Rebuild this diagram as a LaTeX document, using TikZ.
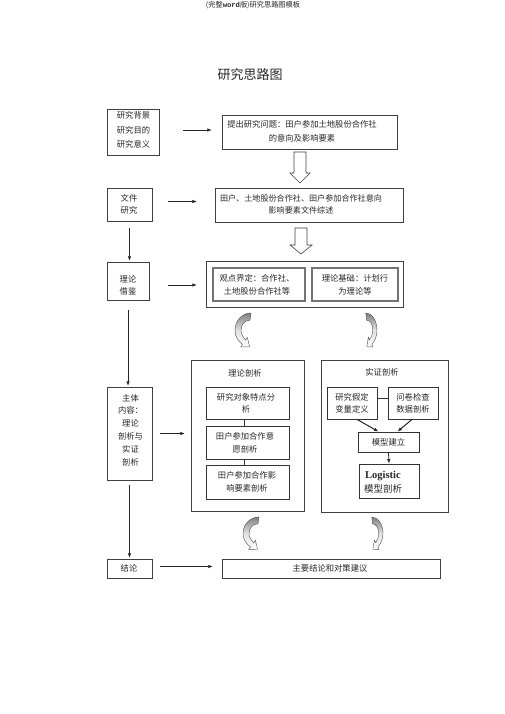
\documentclass[tikz,border=0pt]{standalone}
\usepackage{fontspec}
\setmainfont{Noto Sans CJK SC}
\newfontfamily\latserif{Liberation Serif}
\newfontfamily\latmono{Liberation Mono}
\usetikzlibrary{arrows.meta,shadows}
\tikzset{
  curv/.pic={\path[draw=black!70, line width=0.4pt, top color=black!50, bottom color=white, middle color=black!12]
    (16,0) .. controls (8,0) and (0,6) .. (0,16) .. controls (0,22) and (4,26) .. (7.5,28.5)
    -- (5.7,30.9) -- (14.6,30.7) -- (12.3,22.1) -- (10.5,24.5)
    .. controls (8,22) and (6,19) .. (6,16) .. controls (6,10) and (10,6.5) .. (15,6.5) -- cycle;}
}
\begin{document}
\begin{tikzpicture}[x=1pt,y=-1pt,
  bx/.style={draw=black!75, line width=0.5pt, inner sep=0pt, fill=white},
  bxs/.style={bx, drop shadow={shadow xshift=0.9pt, shadow yshift=-0.9pt, fill=black!70, opacity=1}},
  bxt/.style={draw=black!55, line width=1.4pt, inner sep=0pt, fill=white},
  bxm/.style={draw=black!80, line width=0.8pt, inner sep=0pt, fill=white},
  txt/.style={font=\fontsize{8.3}{13}\selectfont, text=black!85, align=center, inner sep=0pt},
  arr/.style={draw=black!85, line width=0.6pt, -{Latex[length=4.5pt,width=3.5pt]}},
  ln/.style={draw=black!80, line width=0.6pt},
  hollow/.style={draw=black!75, line width=0.6pt, fill=white}]
\useasboundingbox (0,0) rectangle (505,714);

% header and title
\node[txt, font=\fontsize{7.2}{9}\selectfont] (hdr) at (253,5) {(完整{\latmono\bfseries word}版)研究思路图模板};
\node[txt, font=\fontsize{13}{15}\selectfont] (ttl) at (250,75) {研究思路图};

% left column
\node[bx, minimum width=52pt, minimum height=46pt] (b1) at (133,132) {};
\node[txt, align=left, font=\fontsize{8.3}{14.5}\selectfont] (t1) at (133.5,130) {研究背景\\研究目的\\研究意义};
\node[bx, minimum width=45pt, minimum height=33pt] (b4) at (129.5,204.5) {};
\node[txt, font=\fontsize{8.3}{12}\selectfont] (t4) at (129,204) {文件\\研究};
\node[bx, minimum width=42pt, minimum height=38pt] (b5) at (128,281) {};
\node[txt, font=\fontsize{8.3}{12}\selectfont] (t5) at (128,285) {理论\\借鉴};
\node[bx, minimum width=45pt, minimum height=93pt] (b8) at (129.5,433.5) {};
\node[txt, font=\fontsize{8.3}{12.8}\selectfont] (t8) at (130.5,430) {主体\\内容：\\理论\\剖析与\\实证\\剖析};
\node[bx, minimum width=45pt, minimum height=19pt] (b16) at (129.5,568.5) {};
\node[txt] (t16) at (129,568) {结论};

% right column
\node[bxs, minimum width=175pt, minimum height=34pt] (b2) at (309.5,132) {};
\node[txt, font=\fontsize{8.3}{14}\selectfont] (t2) at (302,131) {提出研究问题：田户参加土地股份合作社\\的意向及影响要素};
\node[bx, minimum width=188pt, minimum height=34pt] (b3) at (309,205) {};
\node[txt, font=\fontsize{8.1}{11.5}\selectfont] (t3) at (301,204.5) {田户、土地股份合作社、田户参加合作社意向\\影响要素文件综述};

\node[bx, minimum width=197pt, minimum height=46pt] (c1) at (304.5,284) {};
\node[bxt, minimum width=92pt, minimum height=33pt] (b6) at (259,284.5) {};
\node[txt] (t6) at (257,284.5) {观点界定：合作社、\\土地股份合作社等};
\node[bxt, minimum width=86pt, minimum height=33pt] (b7) at (355,284.5) {};
\node[txt] (t7) at (355,284.5) {理论基础：计划行\\为理论等};

\node[bx, minimum width=113pt, minimum height=151pt] (c2) at (247.5,435.5) {};
\node[txt] (tc2) at (245,373) {理论剖析};
\node[bxm, minimum width=83pt, minimum height=32pt] (b9) at (247.5,403) {};
\node[txt, font=\fontsize{8.3}{11.5}\selectfont] (t9) at (246,403.5) {研究对象特点分\\析};
\node[bxm, minimum width=83pt, minimum height=33pt] (b10) at (247.5,442.5) {};
\node[txt] (t10) at (245,442.5) {田户参加合作意\\愿剖析};
\node[bxm, minimum width=83pt, minimum height=34pt] (b11) at (247.5,482) {};
\node[txt] (t11) at (247,481.5) {田户参加合作影\\响要素剖析};

\node[bx, minimum width=127pt, minimum height=152pt] (c3) at (384.5,436) {};
\node[txt] (tc3) at (382,372) {实证剖析};
\node[bxm, minimum width=50pt, minimum height=32pt] (b12) at (352,403) {};
\node[txt, font=\fontsize{8.3}{11.5}\selectfont] (t12) at (352,403.5) {研究假定\\变量定义};
\node[bxm, minimum width=50pt, minimum height=32pt] (b13) at (413,403) {};
\node[txt, font=\fontsize{8.3}{11.5}\selectfont] (t13) at (413,403.5) {问卷检查\\数据剖析};
\node[bxm, minimum width=61pt, minimum height=20pt] (b14) at (388.5,442) {};
\node[txt] (t14) at (388.5,442) {模型建立};
\node[bxm, minimum width=60pt, minimum height=34pt] (b15) at (389,481) {};
\node[txt, font=\fontsize{9.5}{14.5}\selectfont] (t15) at (383,482) {{\latserif\bfseries\fontsize{10.5}{12}\selectfont Logistic}\\模型剖析};

\node[bx, minimum width=218pt, minimum height=19pt] (b17) at (331,568.5) {};
\node[txt] (t17) at (330,568) {主要结论和对策建议};

% horizontal arrows
\draw[arr, shorten <=24pt, shorten >=10pt] ([yshift=2pt]b1.east) -- ([yshift=2pt]b1.east -| b2.west);
\draw[arr, shorten <=16pt, shorten >=18pt] ([yshift=3pt]b4.east) -- ([yshift=3pt]b4.east -| b3.west);
\draw[arr, shorten <=19pt, shorten >=9pt] ([yshift=-4pt]b5.east) -- ([yshift=-4pt]b5.east -| c1.west);
\draw[arr, shorten <=8pt, shorten >=6pt] (b8.east) -- (b8.east -| c2.west);
\draw[arr, shorten <=8pt, shorten >=9pt] ([yshift=2pt]b16.east) -- ([yshift=2pt]b16.east -| b17.west);

% vertical arrows on the left
\draw[arr, shorten <=7pt, shorten >=1pt] (b4.south) -- (b4.south |- b5.north);
\draw[arr, shorten <=10pt, shorten >=1pt] (b5.south) -- (b5.south |- b8.north);
\draw[arr, shorten <=5pt, shorten >=1pt] (b8.south) -- (b8.south |- b16.north);

% inner connectors
\draw[ln] ([xshift=-3pt]b9.south) -- ([xshift=-3pt]b10.north);
\draw[ln] ([xshift=-3pt]b10.south) -- ([xshift=-3pt]b11.north);
\draw[ln] ([yshift=5pt]b12.east) -- ([yshift=5pt]b13.west);
\draw[arr, line width=1pt] ([xshift=5pt]b12.south) -- ([xshift=-10pt]b14.north);
\draw[arr, line width=1pt] ([xshift=-1pt]b13.south) -- ([xshift=9pt]b14.north);
\draw[arr, line width=0.8pt] (b14.south) -- (b15.north);

% hollow block arrows
\draw[hollow] (294,152) -- (306,152) -- (306,173) -- (310,173) -- (300,183) -- (290,173) -- (294,173) -- cycle;
\draw[hollow] (295,228) -- (307,228) -- (307,245) -- (312,245) -- (301,254) -- (290,245) -- (295,245) -- cycle;

% curved arrows
\pic[yscale=1.1] at (235,313) {curv};
\pic[xscale=-0.7, yscale=1.1] at (377,313) {curv};
\pic[yscale=1.05] at (243,517) {curv};
\pic[xscale=-0.7, yscale=1.05] at (383,517) {curv};
\end{tikzpicture}
\end{document}
